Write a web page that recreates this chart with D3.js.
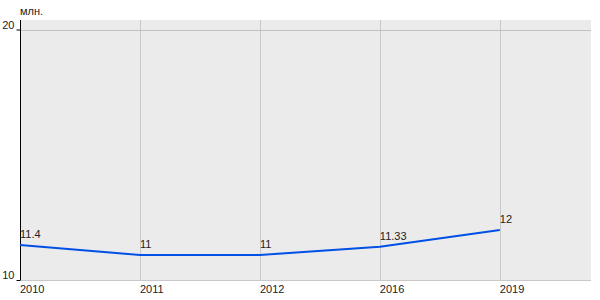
<!DOCTYPE html>
<html><head><meta charset="utf-8">
<script src="https://cdn.jsdelivr.net/npm/d3@7"></script>
<style>body{margin:0;background:#fff}svg{display:block}text{font-family:"Liberation Sans",Arial,sans-serif}</style>
</head><body><svg id="c" width="600" height="300"></svg>
<script>
const categories = ["2010","2011","2012","2016","2019"];
const values = [11.4, 11, 11, 11.33, 12];
const valueLabels = ["11.4","11","11","11.33","12"];
const yTicks = [10, 20];
const unitLabel = "млн.";

(function(){
const svg = d3.select("#c");
const L = 20, R = 591, T = 20, B = 280;
const x = d3.scaleLinear().domain([0, 4.76]).range([L, R]);
const y = d3.scaleLinear().domain([10, 20]).range([B, 29.5]);

svg.append("rect").attr("x", L).attr("y", T).attr("width", R-L).attr("height", B-T).attr("fill", "#ebebeb");

svg.selectAll("line.vg").data(categories).enter().append("line")
  .attr("x1", (d,i)=>Math.round(x(i))+0.5).attr("x2", (d,i)=>Math.round(x(i))+0.5)
  .attr("y1", T).attr("y2", B).attr("stroke", "#c8c8c8").attr("stroke-width", 1);
svg.selectAll("line.hg").data(yTicks.filter(t=>t>10)).enter().append("line")
  .attr("x1", L).attr("x2", R).attr("y1", d=>Math.round(y(d))+0.5).attr("y2", d=>Math.round(y(d))+0.5)
  .attr("stroke", "#c0c0c0").attr("stroke-width", 1);
svg.append("line").attr("x1", L).attr("x2", R).attr("y1", B+0.5).attr("y2", B+0.5).attr("stroke", "#c8c8c8");

const ya = d3.axisLeft(y).tickValues(yTicks).tickSize(4).tickFormat(d3.format("d"));
const g = svg.append("g").attr("transform", `translate(${L+0.5},0)`).call(ya);
g.select(".domain").attr("stroke", "#000").attr("d", `M0,${T}V${B}`);
g.selectAll(".tick line").attr("stroke", "#000").attr("x1", -4).attr("x2", 0);
g.selectAll(".tick text").attr("font-size", 11).attr("fill", "#222").attr("x", -6).attr("dy", "-0.1em").attr("font-family", "Liberation Sans, Arial, sans-serif");

svg.selectAll("text.xl").data(categories).enter().append("text")
  .attr("x", (d,i)=>x(i)).attr("y", 293).attr("font-size", 11).attr("fill", "#222").text(d=>d);

const line = d3.line().x((d,i)=>x(i)).y(d=>y(d));
svg.append("path").datum(values).attr("d", line).attr("fill", "none").attr("stroke", "#0050e6").attr("stroke-width", 2);

svg.selectAll("text.vl").data(values).enter().append("text")
  .attr("x", (d,i)=>x(i)).attr("y", d=>y(d)-7).attr("font-size", 11).attr("fill", "#222").text((d,i)=>valueLabels[i]);

svg.append("text").attr("x", 20).attr("y", 15).attr("font-size", 11).attr("fill", "#222").text(unitLabel);
})();
</script></body></html>
